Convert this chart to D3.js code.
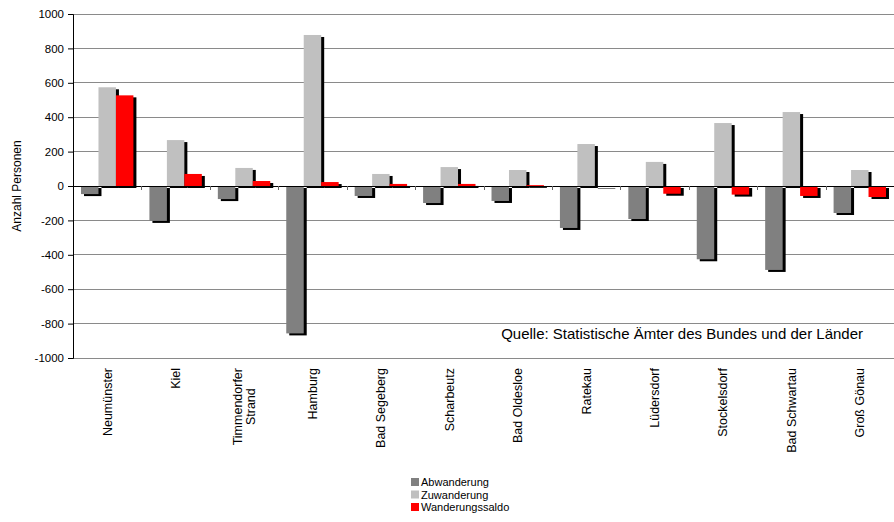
<!DOCTYPE html>
<html><head><meta charset="utf-8">
<script src="https://cdn.jsdelivr.net/npm/d3@7"></script>
<style>
body{margin:0;background:#fff;}
svg{display:block;font-family:Arial,"Liberation Sans",sans-serif;}
</style></head>
<body><svg id="c" width="894" height="522"></svg>
<script>
const categories = ["Neumünster","Kiel","Timmendorfer\nStrand","Hamburg","Bad Segeberg","Scharbeutz","Bad Oldesloe","Ratekau","Lüdersdorf","Stockelsdorf","Bad Schwartau","Groß Gönau"];
const seriesNames = ["Abwanderung","Zuwanderung","Wanderungssaldo"];
const abwanderung = [-47,-203,-76,-857,-58,-99,-87,-244,-192,-426,-488,-157];
const zuwanderung = [574,267,105,878,70,110,93,244,140,366,430,93];
const saldo = [527,70,29,23,12,12,5,-3,-45,-50,-58,-64];
const colors = ["#808080","#C0C0C0","#FF0000"];
const yTicks = [-1000,-800,-600,-400,-200,0,200,400,600,800,1000];
const sourceText = "Quelle: Statistische Ämter des Bundes und der Länder";
const yTitle = "Anzahl Personen";

const seriesValues = [abwanderung, zuwanderung, saldo];
const svg = d3.select("#c");
const L = 73, R = 894, T = 14, B = 358;
const y = d3.scaleLinear().domain([-1000,1000]).range([B,T]);
const x0 = d3.scaleBand().domain(categories).range([L,R]).padding(0);
const bw = x0.bandwidth();
const x1 = d3.scaleBand().domain(seriesNames).range([bw*0.117, bw*0.883]).padding(0);

// gridlines
svg.append("g").selectAll("line").data(yTicks).join("line")
  .attr("x1",L).attr("x2",R).attr("y1",d=>y(d)).attr("y2",d=>y(d))
  .attr("stroke","#8a8a8a").attr("stroke-width",1).attr("shape-rendering","crispEdges");

// bars with shadows
seriesNames.forEach((s,si)=>{
  const g = svg.append("g");
  const data = categories.map((c,i)=>({c, v:seriesValues[si][i]}));
  g.selectAll("rect.sh").data(data).join("rect").attr("class","sh")
    .attr("x",d=>x0(d.c)+x1(s)+3)
    .attr("y",d=>Math.min(y(d.v),y(0))+2)
    .attr("width",x1.bandwidth())
    .attr("height",d=>Math.abs(y(d.v)-y(0)))
    .attr("fill","#000");
  g.selectAll("rect.b").data(data).join("rect").attr("class","b")
    .attr("x",d=>x0(d.c)+x1(s))
    .attr("y",d=>Math.min(y(d.v),y(0)))
    .attr("width",x1.bandwidth())
    .attr("height",d=>Math.abs(y(d.v)-y(0)))
    .attr("fill",colors[si]);
});

// zero line
svg.append("line").attr("x1",L).attr("x2",R).attr("y1",y(0)).attr("y2",y(0))
  .attr("stroke","#000").attr("stroke-width",1).attr("shape-rendering","crispEdges");
// category ticks
svg.append("g").selectAll("line").data(categories.slice(1)).join("line")
  .attr("x1",d=>Math.round(x0(d))+0.5).attr("x2",d=>Math.round(x0(d))+0.5)
  .attr("y1",y(0)).attr("y2",y(0)+4).attr("stroke","#666");

// y axis
const ya = svg.append("g").attr("transform",`translate(${L},0)`)
  .call(d3.axisLeft(y).tickValues(yTicks).tickSize(5).tickPadding(4).tickFormat(d=>String(d)));
ya.select(".domain").attr("stroke","#000");
ya.selectAll(".tick line").attr("stroke","#000");
ya.selectAll("text").attr("font-size","11.5px").attr("fill","#000").attr("font-family","Arial,'Liberation Sans',sans-serif");

// y title
svg.append("text").attr("transform",`translate(21,${y(0)}) rotate(-90)`)
  .attr("text-anchor","middle").attr("font-size","12px").text(yTitle);

// category labels
const labTop = 368;
categories.forEach(c=>{
  const lines = c.split("\n");
  const cx = x0(c)+bw/2;
  const lh = 13.5;
  const t = svg.append("text").attr("font-size","12.5px").attr("fill","#000");
  lines.forEach((ln,i)=>{
    const off = (i-(lines.length-1)/2)*lh;
    t.append("tspan").attr("data-off",off).text(ln);
  });
  const widths = [];
  t.selectAll("tspan").each(function(){widths.push(this.getComputedTextLength());});
  const maxW = d3.max(widths);
  if(lines.length===1){
    t.attr("text-anchor","end")
     .attr("transform",`translate(${cx},${labTop}) rotate(-90)`)
     .select("tspan").attr("x",0).attr("y",0).attr("dy","0.36em");
  } else {
    t.attr("text-anchor","middle")
     .attr("transform",`translate(${cx},${labTop+maxW/2}) rotate(-90)`);
    t.selectAll("tspan").attr("x",0).attr("y",function(){return +this.getAttribute("data-off");}).attr("dy","0.36em");
  }
});

// source text
svg.append("text").attr("x",863).attr("y",339).attr("text-anchor","end")
  .attr("font-size","15px").attr("fill","#000").text(sourceText);

// legend
const lg = svg.append("g").attr("transform","translate(411,477)");
seriesNames.forEach((s,i)=>{
  lg.append("rect").attr("x",0).attr("y",i*12.5+1).attr("width",8).attr("height",8).attr("fill",colors[i]);
  lg.append("text").attr("x",10).attr("y",i*12.5+9).attr("font-size","11px").attr("fill","#000").text(s);
});
</script></body></html>
